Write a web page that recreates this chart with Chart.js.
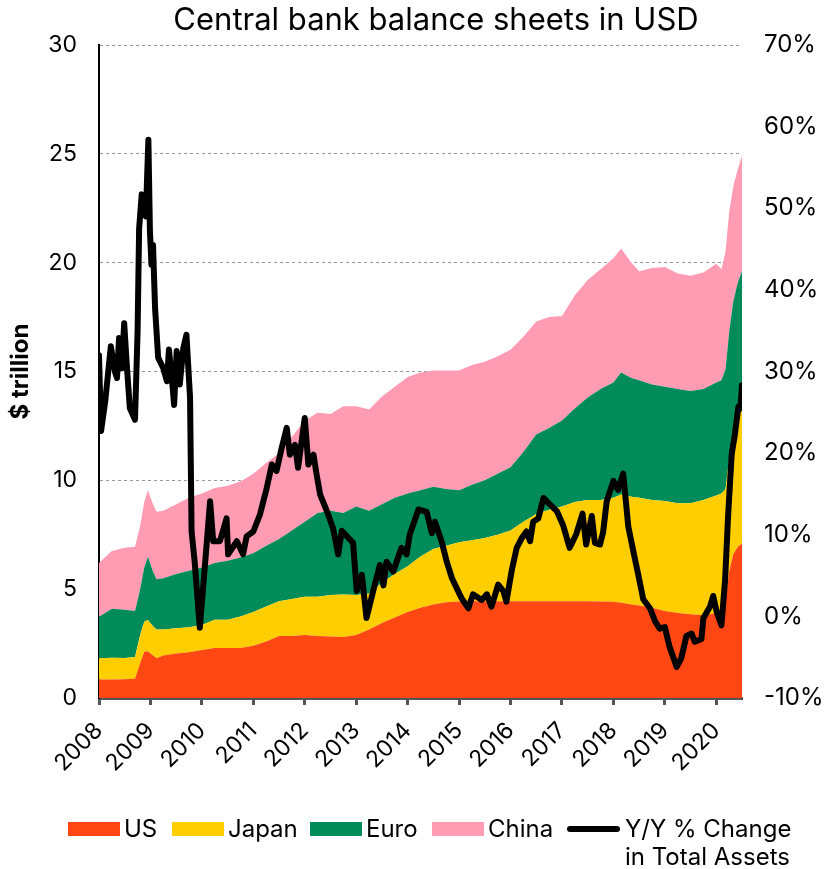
<!DOCTYPE html>
<html>
<head>
<meta charset="utf-8">
<script src="https://cdn.jsdelivr.net/npm/chart.js@4.4.1/dist/chart.umd.min.js"></script>
<style>
  body { margin: 0; background: #fff; font-family: Inter, sans-serif; }
  #wrap { position: relative; width: 829px; height: 869px; }
  .lg { position: absolute; font-size: 24px; line-height: 28px; color: #000; white-space: nowrap; }
  .sw { position: absolute; width: 52px; height: 14px; }
</style>
</head>
<body>
<div id="wrap">
  <canvas id="chart" width="829" height="869"></canvas>
  <div id="legend"></div>
</div>
<script>
const chartTitle = 'Central bank balance sheets in USD';
const yearTicks = [2008, 2009, 2010, 2011, 2012, 2013, 2014, 2015, 2016, 2017, 2018, 2019, 2020];

// stacked areas, $ trillion, sampled at these dates (decimal years)
const areaDates = [2008.00, 2008.25, 2008.50, 2008.70, 2008.80, 2008.88, 2008.95,
  2009.05, 2009.12, 2009.25, 2009.50, 2009.75,
  2010.00, 2010.25, 2010.50, 2010.75, 2011.00, 2011.25, 2011.50, 2011.75,
  2012.00, 2012.25, 2012.50, 2012.75, 2013.00, 2013.25, 2013.50, 2013.75,
  2014.00, 2014.25, 2014.50, 2014.75, 2015.00, 2015.25, 2015.50, 2015.75,
  2016.00, 2016.25, 2016.50, 2016.75, 2017.00, 2017.25, 2017.50, 2017.75,
  2018.00, 2018.15, 2018.35, 2018.50, 2018.75,
  2019.00, 2019.25, 2019.50, 2019.75,
  2020.00, 2020.10, 2020.18, 2020.25, 2020.33, 2020.42, 2020.50];

const usVals = [0.85, 0.85, 0.86, 0.88, 1.60, 2.13, 2.15,
  1.95, 1.83, 1.95, 2.05, 2.10,
  2.20, 2.30, 2.30, 2.30, 2.40, 2.60, 2.85, 2.85,
  2.90, 2.85, 2.82, 2.80, 2.90, 3.15, 3.45, 3.70,
  3.95, 4.15, 4.30, 4.40, 4.43, 4.45, 4.45, 4.45,
  4.45, 4.45, 4.45, 4.45, 4.45, 4.45, 4.45, 4.43,
  4.42, 4.38, 4.30, 4.25, 4.15,
  4.00, 3.90, 3.85, 3.80,
  3.90, 4.00, 4.50, 5.80, 6.60, 6.95, 7.10];

const japanVals = [0.98, 1.00, 0.98, 1.00, 1.30, 1.37, 1.43,
  1.35, 1.32, 1.20, 1.15, 1.15,
  1.15, 1.30, 1.30, 1.45, 1.55, 1.60, 1.60, 1.70,
  1.75, 1.80, 1.91, 1.95, 1.83, 1.65, 1.85, 2.00,
  2.10, 2.35, 2.55, 2.60, 2.72, 2.80, 2.90, 3.05,
  3.25, 3.65, 4.00, 4.20, 4.35, 4.55, 4.65, 4.67,
  4.78, 4.97, 4.95, 4.95, 4.95,
  5.05, 5.05, 5.10, 5.30,
  5.40, 5.40, 5.10, 5.20, 5.60, 5.95, 6.20];

const euroVals = [1.90, 2.25, 2.21, 2.12, 2.10, 2.50, 2.91,
  2.50, 2.30, 2.35, 2.50, 2.60,
  2.65, 2.60, 2.70, 2.70, 2.70, 2.80, 2.85, 3.15,
  3.45, 3.85, 3.87, 3.75, 4.07, 3.80, 3.60, 3.50,
  3.35, 3.05, 2.85, 2.60, 2.40, 2.55, 2.65, 2.80,
  2.90, 3.20, 3.65, 3.75, 3.95, 4.30, 4.70, 5.10,
  5.30, 5.60, 5.45, 5.40, 5.30,
  5.25, 5.25, 5.15, 5.10,
  5.20, 5.20, 5.50, 5.80, 6.00, 6.20, 6.30];

const chinaVals = [2.47, 2.65, 2.85, 2.95, 2.90, 3.00, 3.06,
  3.10, 3.11, 3.10, 3.20, 3.35,
  3.40, 3.45, 3.45, 3.50, 3.65, 3.80, 3.95, 4.30,
  4.65, 4.60, 4.45, 4.90, 4.60, 4.65, 4.95, 5.10,
  5.35, 5.40, 5.35, 5.45, 5.50, 5.50, 5.45, 5.40,
  5.40, 5.30, 5.20, 5.10, 4.80, 5.20, 5.40, 5.50,
  5.70, 5.70, 5.30, 5.00, 5.35,
  5.50, 5.30, 5.30, 5.35,
  5.45, 5.10, 5.40, 5.50, 5.30, 5.20, 5.30];

// Y/Y % change in total assets (right axis)
const lineDates = [2008.00, 2008.04, 2008.12, 2008.23, 2008.31, 2008.35, 2008.39, 2008.44, 2008.49, 2008.54,
  2008.60, 2008.70, 2008.75, 2008.78, 2008.83, 2008.89, 2008.91, 2008.96, 2008.99,
  2009.02, 2009.05, 2009.09, 2009.15, 2009.25, 2009.32, 2009.36, 2009.43, 2009.46, 2009.51,
  2009.57, 2009.64, 2009.70, 2009.77, 2009.80, 2009.86, 2009.96,
  2010.06, 2010.16, 2010.22, 2010.35, 2010.48, 2010.51, 2010.68, 2010.80, 2010.87,
  2011.00, 2011.13, 2011.26, 2011.36, 2011.45, 2011.55, 2011.65, 2011.71, 2011.81, 2011.87, 2011.94,
  2012.00, 2012.07, 2012.17, 2012.23, 2012.30, 2012.43, 2012.55, 2012.65, 2012.72, 2012.85, 2012.94,
  2013.01, 2013.11, 2013.20, 2013.33, 2013.46, 2013.53, 2013.59, 2013.72, 2013.88, 2013.98,
  2014.04, 2014.21, 2014.37, 2014.47, 2014.53, 2014.66, 2014.76, 2014.86, 2014.95,
  2015.05, 2015.18, 2015.27, 2015.44, 2015.54, 2015.63, 2015.76, 2015.86, 2015.92,
  2016.02, 2016.12, 2016.22, 2016.31, 2016.38, 2016.44, 2016.54, 2016.64, 2016.77, 2016.90,
  2017.02, 2017.15, 2017.28, 2017.40, 2017.47, 2017.58, 2017.64, 2017.74, 2017.80, 2017.87,
  2018.00, 2018.09, 2018.19, 2018.29, 2018.39, 2018.48, 2018.58, 2018.71, 2018.81, 2018.90,
  2019.00, 2019.09, 2019.23, 2019.32, 2019.42, 2019.52, 2019.58, 2019.71, 2019.75, 2019.88, 2019.94,
  2020.01, 2020.10, 2020.17, 2020.23, 2020.30, 2020.36, 2020.43, 2020.47, 2020.50];

const yoyVals = [32.0, 22.7, 26.3, 33.1, 30.0, 29.2, 34.1, 30.4, 35.9, 30.8,
  25.5, 24.1, 34.9, 47.5, 51.7, 51.0, 49.0, 58.4, 47.2,
  43.1, 45.5, 37.8, 31.7, 30.4, 28.8, 32.7, 28.2, 25.9, 32.5,
  28.4, 32.9, 34.5, 26.8, 10.4, 6.7, -1.4,
  6.3, 14.1, 9.2, 9.2, 12.0, 7.6, 9.2, 7.6, 9.8,
  10.4, 12.5, 15.7, 18.6, 17.8, 20.6, 23.1, 19.8, 21.0, 18.2, 21.5,
  24.3, 18.6, 19.8, 17.4, 14.9, 12.9, 10.8, 7.6, 10.5, 9.6, 9.0,
  3.1, 5.1, -0.2, 3.1, 6.3, 3.8, 6.7, 5.5, 8.4, 7.6,
  10.0, 13.1, 12.8, 10.2, 11.6, 9.2, 6.7, 4.7, 3.5,
  2.2, 1.0, 2.7, 2.0, 2.7, 1.2, 3.9, 3.1, 1.8,
  5.5, 8.4, 9.6, 10.4, 9.2, 11.6, 12.0, 14.5, 13.7, 12.9,
  11.2, 8.4, 10.1, 12.6, 8.8, 12.3, 9.0, 8.8, 10.3, 14.1,
  16.6, 15.5, 17.5, 11.0, 7.9, 5.2, 2.1, 1.0, -0.6, -1.5,
  -1.3, -3.7, -6.2, -5.1, -2.4, -2.1, -3.1, -2.8, -0.2, 1.2, 2.5,
  0.5, -1.1, 4.3, 12.3, 19.9, 22.2, 25.7, 25.5, 28.3];

const seriesNames = ['US', 'Japan', 'Euro', 'China'];
const seriesColors = ['#FF4713', '#FFCE00', '#008C5A', '#FF9BB3'];
const lineName = ['Y/Y % Change', 'in Total Assets'];

const pts = (xs, ys) => xs.map((x, i) => ({ x: x, y: ys[i] }));

Chart.defaults.font.family = 'Inter, sans-serif';
Chart.defaults.color = '#000';

const titlePlugin = {
  id: 'topTitle',
  afterDraw(chart) {
    const ctx = chart.ctx;
    ctx.save();
    ctx.font = '31px Inter, sans-serif';
    ctx.fillStyle = '#000';
    ctx.textAlign = 'center';
    ctx.textBaseline = 'middle';
    ctx.fillText(chartTitle, 436, 21);
    ctx.restore();
  }
};

const areaSets = [usVals, japanVals, euroVals, chinaVals].map((vals, i) => ({
  label: seriesNames[i],
  data: pts(areaDates, vals),
  backgroundColor: seriesColors[i],
  borderWidth: 0,
  pointRadius: 0,
  fill: i === 0 ? 'origin' : '-1',
  yAxisID: 'y',
  tension: 0
}));

new Chart(document.getElementById('chart'), {
  type: 'line',
  data: {
    datasets: [{
      label: lineName.join(' '),
      data: pts(lineDates, yoyVals),
      borderColor: '#000',
      borderWidth: 6,
      borderJoinStyle: 'round',
      borderCapStyle: 'round',
      pointRadius: 0,
      fill: false,
      yAxisID: 'y1',
      tension: 0
    }].concat(areaSets)
  },
  options: {
    responsive: false,
    animation: false,
    layout: { padding: { top: 45, bottom: 70, left: 0, right: 0 } },
    plugins: { legend: { display: false }, tooltip: { enabled: false } },
    scales: {
      x: {
        type: 'linear',
        min: 2008,
        max: 2020.5,
        afterBuildTicks: s => { s.ticks = yearTicks.map(v => ({ value: v })); },
        afterFit: s => { s.height = 101; },
        ticks: { font: { size: 23 }, minRotation: 45, maxRotation: 45, padding: 12, autoSkip: false,
          callback: v => String(v) },
        grid: { drawOnChartArea: false, drawTicks: true, tickLength: 7, tickWidth: 3, tickColor: '#555' },
        border: { color: '#555', width: 3 }
      },
      y: {
        position: 'left',
        stacked: true,
        min: 0,
        max: 30,
        afterFit: s => { s.width = 99; },
        ticks: { stepSize: 5, font: { size: 23 }, padding: 22 },
        grid: { color: '#999', lineWidth: 1, drawTicks: false },
        border: { color: '#000', width: 2, dash: [3, 3] },
        title: { display: true, text: '$ trillion', font: { size: 24, weight: 'bold' }, padding: { top: 6, bottom: 0 } }
      },
      y1: {
        position: 'right',
        min: -10,
        max: 70,
        afterFit: s => { s.width = 87; },
        ticks: { stepSize: 10, font: { size: 24 }, padding: 22, callback: v => v + '%' },
        grid: { display: false, drawTicks: false },
        border: { display: false }
      }
    }
  },
  plugins: [titlePlugin]
});

// legend
const legend = document.getElementById('legend');
const lgLeft = [68, 172, 310, 432];
seriesNames.forEach((name, i) => {
  const sw = document.createElement('div');
  sw.className = 'sw';
  sw.style.left = lgLeft[i] + 'px';
  sw.style.top = '822px';
  sw.style.background = seriesColors[i];
  legend.appendChild(sw);
  const t = document.createElement('div');
  t.className = 'lg';
  t.style.left = (lgLeft[i] + 56) + 'px';
  t.style.top = '815px';
  t.textContent = name;
  legend.appendChild(t);
});
const ln = document.createElement('div');
ln.style.cssText = 'position:absolute;left:567px;top:826px;width:53px;height:6px;background:#000;border-radius:3px';
legend.appendChild(ln);
const lt = document.createElement('div');
lt.className = 'lg';
lt.style.left = '625px';
lt.style.top = '815px';
lt.innerHTML = lineName.join('<br>');
legend.appendChild(lt);
</script>
</body>
</html>
